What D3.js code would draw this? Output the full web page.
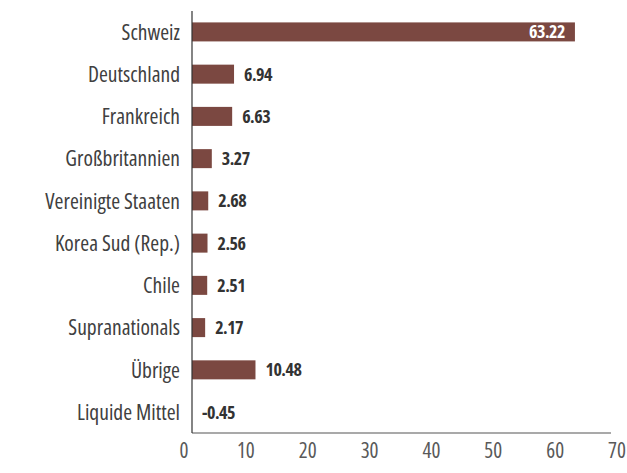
<!DOCTYPE html>
<html>
<head>
<meta charset="utf-8">
<script src="https://cdn.jsdelivr.net/npm/d3@7"></script>
<style>
  body { margin: 0; background: #fff; }
  text { font-family: "Open Sans", sans-serif; font-stretch: condensed; }
</style>
</head>
<body>
<div id="viz"></div>
<script>
// Länderaufteilung in Prozent

const categories = [
    "Schweiz", "Deutschland", "Frankreich", "Großbritannien",
    "Vereinigte Staaten", "Korea Sud (Rep.)", "Chile",
    "Supranationals", "Übrige", "Liquide Mittel"
];
const values = [63.22, 6.94, 6.63, 3.27, 2.68, 2.56, 2.51, 2.17, 10.48, -0.45];
const valueLabels = ["63.22", "6.94", "6.63", "3.27", "2.68", "2.56", "2.51", "2.17", "10.48", "-0.45"];
const ticks = [0, 10, 20, 30, 40, 50, 60, 70];

function drawChart() {
    const dimensions = {
        width: 627,
        height: 473,
        margins: { top: 11, right: 10, bottom: 40, left: 192 }
    };

    const viz = d3.select('#viz').append('svg')
        .attr('width', dimensions.width)
        .attr('height', dimensions.height);

    // bars clip at the axis minimum, like the original
    const x = d3.scaleLinear()
        .domain([0, 70])
        .range([dimensions.margins.left, 616])
        .clamp(true);

    // tick labels sit a little wider than the axis line
    const xLabel = d3.scaleLinear()
        .domain([0, 70])
        .range([184, 617]);

    const y = d3.scaleBand()
        .domain(categories)
        .range([dimensions.margins.top, dimensions.height - dimensions.margins.bottom])
        .paddingInner(0.55)
        .paddingOuter(0.27);

    const data = categories.map((c, i) => ({ name: c, value: values[i], label: valueLabels[i] }));

    // bars
    viz.append('g')
        .selectAll('rect')
        .data(data)
        .enter().append('rect')
            .attr('x', d => x(Math.min(0, d.value)))
            .attr('y', d => y(d.name))
            .attr('width', d => Math.abs(x(d.value) - x(0)))
            .attr('height', y.bandwidth())
            .attr('fill', '#7b4841');

    // value labels
    viz.append('g')
        .selectAll('text')
        .data(data)
        .enter().append('text')
            .attr('x', d => d.value > 40 ? x(d.value) - 10 : Math.max(x(d.value), x(0)) + 10)
            .attr('y', d => y(d.name) + y.bandwidth() / 2)
            .attr('dy', '0.36em')
            .attr('text-anchor', d => d.value > 40 ? 'end' : 'start')
            .attr('fill', d => d.value > 40 ? '#fff' : '#333')
            .style('font-size', '18px')
            .style('font-weight', 'bold')
            .style('letter-spacing', '-0.5px')
            .text(d => d.label);

    // category labels
    viz.append('g')
        .selectAll('text')
        .data(data)
        .enter().append('text')
            .attr('x', x(0) - 12)
            .attr('y', d => y(d.name) + y.bandwidth() / 2)
            .attr('dy', '0.36em')
            .attr('text-anchor', 'end')
            .attr('fill', '#404040')
            .style('font-size', '21.5px')
            .text(d => d.name);

    const axisY = dimensions.height - dimensions.margins.bottom;

    // horizontal axis line
    viz.append('line')
        .attr('x1', x(0))
        .attr('x2', 611)
        .attr('y1', axisY)
        .attr('y2', axisY)
        .style('stroke', '#8c8c8c')
        .style('stroke-width', 1.5);

    // vertical axis line
    viz.append('line')
        .attr('x1', x(0))
        .attr('x2', x(0))
        .attr('y1', dimensions.margins.top)
        .attr('y2', axisY)
        .style('stroke', '#333')
        .style('stroke-width', 1.2);

    // tick labels
    viz.append('g')
        .selectAll('text')
        .data(ticks)
        .enter().append('text')
            .attr('x', d => xLabel(d))
            .attr('y', axisY + 25)
            .attr('text-anchor', 'middle')
            .attr('fill', '#595959')
            .style('font-size', '21px')
            .text(d => d);
}

drawChart();
</script>
</body>
</html>
